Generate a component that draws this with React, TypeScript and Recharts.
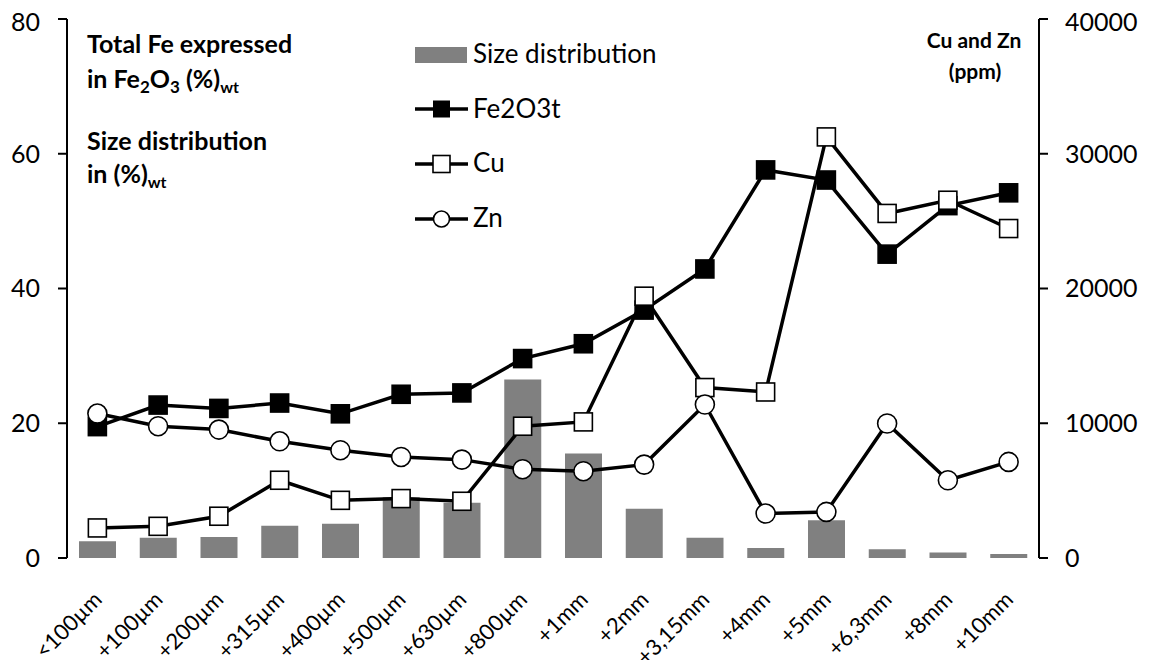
import React from "react";
import { ComposedChart, Bar, Line, XAxis, YAxis, Legend } from "recharts";

// size classes on the x axis
const sizeClasses = [
  "<100µm", "+100µm", "+200µm", "+315µm", "+400µm", "+500µm", "+630µm", "+800µm",
  "+1mm", "+2mm", "+3,15mm", "+4mm", "+5mm", "+6,3mm", "+8mm", "+10mm",
];

// left axis, (%)wt
const sizeDistribution = [2.5, 3.0, 3.1, 4.8, 5.1, 9.0, 8.2, 26.5, 15.5, 7.3, 3.0, 1.5, 5.6, 1.3, 0.8, 0.6];
const fe2o3t = [19.5, 22.7, 22.2, 23.0, 21.4, 24.3, 24.5, 29.6, 31.8, 36.8, 42.9, 57.6, 56.1, 45.1, 52.3, 54.2];

// right axis, ppm
const cu = [2230, 2350, 3100, 5770, 4280, 4410, 4210, 9780, 10100, 19430, 12650, 12320, 31250, 25570, 26550, 24450];
const zn = [10720, 9780, 9530, 8660, 8000, 7500, 7300, 6590, 6440, 6930, 11390, 3300, 3420, 9980, 5770, 7130];

const leftTicks = [0, 20, 40, 60, 80];
const rightTicks = [0, 10000, 20000, 30000, 40000];
const edgeTicks = sizeClasses.map((_, i) => i).concat(sizeClasses.length);

const data = sizeClasses.map((label, i) => ({
  label,
  sizeDist: sizeDistribution[i],
  fe: fe2o3t[i],
  cu: cu[i],
  zn: zn[i],
}));

const FONT = "Lato, 'Open Sans', sans-serif";
const W = 1145;
const H = 652;

// rotated size-class label, its end sits just right of the category centre
const SizeTick = (props: any) => {
  const { x, y, payload } = props;
  return (
    <text
      x={0}
      y={0}
      textAnchor="end"
      fill="#000"
      fontSize={22}
      fontFamily={FONT}
      transform={`translate(${x + 6} ${y + 43}) rotate(-45)`}
    >
      {payload.value}
    </text>
  );
};

const squareDot = (fill: string, id: string) => (p: any) => (
  <rect key={`${id}-${p.index}`} x={p.cx - 9} y={p.cy - 9} width={18} height={18} fill={fill} stroke="#000" strokeWidth={1.6} />
);

const circleDot = (p: any) => (
  <circle key={`zn-${p.index}`} cx={p.cx} cy={p.cy} r={9.5} fill="#fff" stroke="#000" strokeWidth={1.6} />
);

const renderLegend = () => (
  <svg width={270} height={200} style={{ display: "block" }}>
    <rect x={7} y={9} width={52} height={16} fill="#808080" />
    <text x={65} y={25} fontSize={26} fontFamily={FONT} fill="#000">Size distribution</text>

    <line x1={7} x2={60} y1={71} y2={71} stroke="#000" strokeWidth={3.5} />
    <rect x={25} y={62.5} width={17} height={17} fill="#000" />
    <text x={65} y={80} fontSize={26} fontFamily={FONT} fill="#000">Fe2O3t</text>

    <line x1={7} x2={60} y1={126} y2={126} stroke="#000" strokeWidth={3.5} />
    <rect x={25} y={117.5} width={17} height={17} fill="#fff" stroke="#000" strokeWidth={1.6} />
    <text x={65} y={134} fontSize={26} fontFamily={FONT} fill="#000">Cu</text>

    <line x1={7} x2={60} y1={181} y2={181} stroke="#000" strokeWidth={3.5} />
    <circle cx={33.5} cy={181} r={8} fill="#fff" stroke="#000" strokeWidth={1.6} />
    <text x={65} y={189} fontSize={26} fontFamily={FONT} fill="#000">Zn</text>
  </svg>
);

export default function App() {
  const axisLine = { stroke: "#000", strokeWidth: 2 };
  const tickStyle = { fill: "#000", fontSize: 25, fontFamily: FONT };
  return (
    <div style={{ position: "relative", width: W, height: H, fontFamily: FONT }}>
      <style>{"svg.recharts-surface { overflow: visible; }"}</style>
      <ComposedChart width={W} height={H} data={data} margin={{ top: 11, right: 14, bottom: 0, left: 0 }}>
        <XAxis
          xAxisId="edges"
          type="number"
          domain={[0, sizeClasses.length]}
          ticks={edgeTicks}
          allowDataOverflow
          tick={false}
          tickSize={7}
          height={0}
          axisLine={axisLine}
          tickLine={axisLine}
        />
        <XAxis
          xAxisId="cat"
          dataKey="label"
          interval={0}
          height={102}
          axisLine={false}
          tickLine={false}
          tickSize={0}
          tickMargin={0}
          tick={SizeTick}
        />
        <YAxis
          yAxisId="left"
          domain={[0, 80]}
          ticks={leftTicks}
          width={59}
          tickSize={9}
          tickMargin={18}
          axisLine={axisLine}
          tickLine={axisLine}
          tick={tickStyle}
        />
        <YAxis
          yAxisId="right"
          orientation="right"
          domain={[0, 40000]}
          ticks={rightTicks}
          width={100}
          tickSize={9}
          tickMargin={17}
          axisLine={axisLine}
          tickLine={axisLine}
          tick={{ ...tickStyle, textAnchor: "start" }}
        />
        <Legend
          layout="vertical"
          align="center"
          verticalAlign="middle"
          content={renderLegend}
          wrapperStyle={{ left: 400, top: 30, width: 270, height: 200 }}
        />
        <Bar xAxisId="cat" yAxisId="left" dataKey="sizeDist" name="Size distribution" fill="#808080" barSize={37} isAnimationActive={false} />
        <Line xAxisId="cat" yAxisId="left" dataKey="fe" name="Fe2O3t" stroke="#000" strokeWidth={3.5} dot={squareDot("#000", "fe")} activeDot={false} isAnimationActive={false} />
        <Line xAxisId="cat" yAxisId="right" dataKey="cu" name="Cu" stroke="#000" strokeWidth={3.5} dot={squareDot("#fff", "cu")} activeDot={false} isAnimationActive={false} />
        <Line xAxisId="cat" yAxisId="right" dataKey="zn" name="Zn" stroke="#000" strokeWidth={3.5} dot={circleDot} activeDot={false} isAnimationActive={false} />
      </ComposedChart>

      {/* axis titles drawn over the plot, page coords shifted by the body margin */}
      <svg width={1161} height={668} style={{ position: "absolute", left: -8, top: -8, pointerEvents: "none" }}>
        <g fontFamily={FONT} fontWeight="bold" fill="#000">
          <text x={87} y={53} fontSize={25}>Total Fe expressed</text>
          <text x={87} y={88} fontSize={25}>
            in Fe<tspan fontSize={17} dy={5}>2</tspan>
            <tspan dy={-5}>O</tspan>
            <tspan fontSize={17} dy={5}>3</tspan>
            <tspan dy={-5}> (%)</tspan>
            <tspan fontSize={16} dy={5}>wt</tspan>
          </text>
          <text x={87} y={150} fontSize={25}>Size distribution</text>
          <text x={87} y={183} fontSize={25}>
            in (%)<tspan fontSize={16} dy={5}>wt</tspan>
          </text>
          <text x={974} y={48} fontSize={21} textAnchor="middle">Cu and Zn</text>
          <text x={975} y={79} fontSize={21} textAnchor="middle">(ppm)</text>
        </g>
      </svg>
    </div>
  );
}
